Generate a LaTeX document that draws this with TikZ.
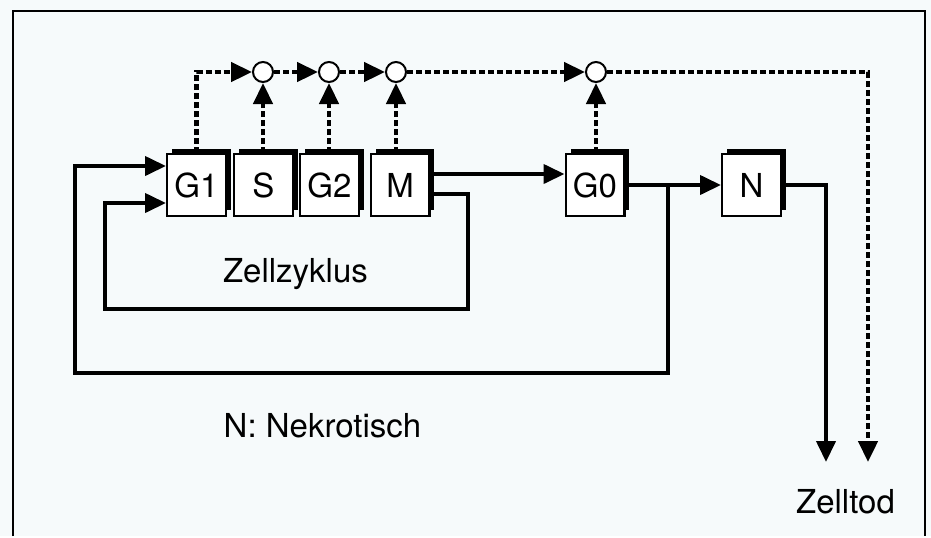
\documentclass[tikz,border=0pt]{standalone}
\usepackage{fontspec}
\setmainfont{TeX Gyre Heros}
\usetikzlibrary{arrows.meta,shadows}
\definecolor{paper}{RGB}{246,250,251}

\begin{document}
\begin{tikzpicture}[x=0.5pt,y=-0.5pt,
    font=\fontsize{16.5}{19}\selectfont,
    phase/.style={draw, line width=1.2pt, fill=white, inner sep=0pt,
      minimum width=29.3pt, minimum height=30.8pt,
      drop shadow={shadow xshift=2.4pt, shadow yshift=2.8pt, fill=black, opacity=1}},
    knot/.style={circle, draw, line width=1pt, fill=white, minimum size=10pt, inner sep=0pt},
    tip/.style={-{Triangle[length=10.5pt,width=9.5pt]}},
    flow/.style={line width=2pt},
    ctrl/.style={line width=2.3pt, dash pattern=on 3.2pt off 1.3pt}]

  % paper and frame
  \fill[paper] (0,0) rectangle (931,536);
  \draw[line width=1pt] (13,536) -- (13,11) -- (925,11) -- (925,536);

  % phases
  \node[phase] (G1) at (196.5,185) {G1};
  \node[phase] (S)  at (263.5,185) {S};
  \node[phase] (G2) at (329.5,185) {G2};
  \node[phase] (M)  at (400,185)   {M};
  \node[phase] (G0) at (595,185)   {G0};
  \node[phase] (N)  at (751.5,185) {N};

  % control points
  \node[knot] (c1) at (263,72) {};
  \node[knot] (c2) at (329,72) {};
  \node[knot] (c3) at (396,72) {};
  \node[knot] (c4) at (596,72) {};

  \coordinate (innerR) at (468,309);
  \coordinate (innerL) at (105,309);
  \coordinate (fork)   at (668,185);
  \coordinate (outer)  at (75,373);
  \coordinate (deadS)  at (826,462);
  \coordinate (deadC)  at (868,462);

  % labels
  \node[anchor=base] (cycle)  at (295.5,282) {Zellzyklus};
  \node[anchor=base] (legend) at (322.5,437) {N: Nekrotisch};
  \node[anchor=base] (death)  at (845.5,513) {Zelltod};

  % solid flow
  \draw[flow, tip] ([yshift=5.5pt]M.east) -- ([yshift=5.5pt]G0.west);
  \draw[flow, tip] (G0.east) -- (N.west);
  \draw[flow, tip] ([yshift=-4.5pt]M.east) -| (innerR) -- (innerL) |- ([yshift=-9pt]G1.west);
  \draw[flow, tip] (fork) |- (outer) |- ([yshift=9.5pt]G1.west);
  \draw[flow, tip] (N.east) -| (deadS);

  % dashed control
  \draw[ctrl, tip] (G1.north) |- (c1);
  \draw[ctrl, tip] (c1) -- (c2);
  \draw[ctrl, tip] (c2) -- (c3);
  \draw[ctrl, tip] (c3) -- (c4);
  \draw[ctrl, tip] (c4) -| (deadC);
  \draw[ctrl, tip] (c1 |- S.north)  -- (c1);
  \draw[ctrl, tip] (c2 |- G2.north) -- (c2);
  \draw[ctrl, tip] (c3 |- M.north)  -- (c3);
  \draw[ctrl, tip] (c4 |- G0.north) -- (c4);
\end{tikzpicture}
\end{document}
